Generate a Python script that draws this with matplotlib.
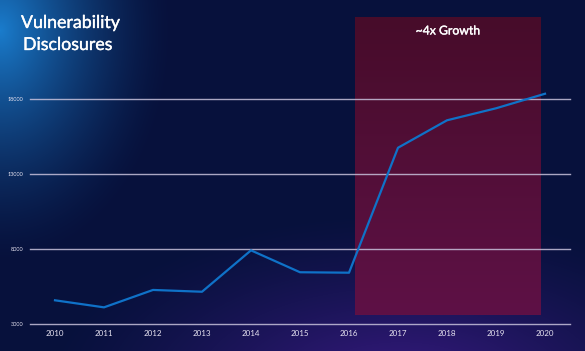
import numpy as np
import matplotlib
matplotlib.use('Agg')
import matplotlib.pyplot as plt
import matplotlib.patheffects as pe
from matplotlib.colors import to_rgb

plt.rcParams['font.family'] = ['Lato', 'DejaVu Sans']

# data
years = [2010, 2011, 2012, 2013, 2014, 2015, 2016, 2017, 2018, 2019, 2020]
disclosures = [4580, 4110, 5270, 5150, 7910, 6450, 6420, 14750, 16580, 17380, 18350]
y_ticks = [3000, 8000, 13000, 18000]
growth_span = (2016.13, 2019.91)
growth_label = '~4x Growth'

W, H = 585, 351
fig = plt.figure(figsize=(W / 100, H / 100), dpi=100)

# background: dark navy with blue glow top-left and purple glow bottom
bg = fig.add_axes([0, 0, 1, 1])
yy, xx = np.mgrid[0:H, 0:W]
base = np.array(to_rgb('#07113c'))
img = np.ones((H, W, 3)) * base
d_blue = np.sqrt((xx * 1.15) ** 2 + ((yy - 30) * 0.85) ** 2)
w_blue = np.clip(1 - d_blue / 200, 0, 1) ** 1.5
img = img * (1 - w_blue[..., None]) + np.array(to_rgb('#1a7ccc')) * w_blue[..., None]
d_purp = np.sqrt(((xx - 400) * 0.5) ** 2 + ((yy - 390) * 1.0) ** 2)
w_purp = np.clip(1 - d_purp / 180, 0, 1) ** 1.3
img = img * (1 - w_purp[..., None]) + np.array(to_rgb('#3a1a84')) * w_purp[..., None]
bg.imshow(img, aspect='auto', extent=[0, W, H, 0])
bg.set_xlim(0, W)
bg.set_ylim(H, 0)
bg.axis('off')

ax = fig.add_axes([30 / W, (H - 324) / H, 540 / W, 314 / H])
ax.patch.set_alpha(0)
x0 = 2010 - 25 / 49
x1 = 2020 + 25 / 49
y_top = 3000 + 314 * (15000 / 225)
ax.set_xlim(x0, x1)
ax.set_ylim(3000, y_top)

# shaded growth region with vertical gradient
grad = np.linspace(0, 1, 100)[:, None, None]
top_c = np.array(to_rgb('#470c2a'))
bot_c = np.array(to_rgb('#5e1146'))
rect = top_c * (1 - grad) + bot_c * grad
rect = np.repeat(rect, 2, axis=1)
ax.imshow(rect, aspect='auto', extent=[growth_span[0], growth_span[1], 3600, 23450],
          zorder=1)

for v in y_ticks:
    ax.axhline(v, color='#c8c2dc', lw=1.0, alpha=0.85, zorder=2, clip_on=False)

ax.plot(years, disclosures, color='#0f72c8', lw=1.6, zorder=3)

ax.set_xticks(years)
ax.set_xticklabels([str(y) for y in years], color='#e6e2f0', fontsize=5.8)
ax.set_yticks(y_ticks)
ax.set_yticklabels([str(v) for v in y_ticks], color='#e6e2f0', fontsize=4)
ax.tick_params(length=0, pad=4)
ax.tick_params(axis='y', pad=5)
for s in ax.spines.values():
    s.set_visible(False)

medium = [pe.withStroke(linewidth=0.25, foreground='white')]
ax.text(np.mean(growth_span), 3000 + (324 - 31) * (15000 / 225), growth_label,
        color='white', fontsize=8.8, ha='center', va='center', zorder=4,
        path_effects=medium)

fig.text(21 / W, 1 - 23 / H, 'Vulnerability', color='white', fontsize=12.8,
         ha='left', va='center', path_effects=medium)
fig.text(23 / W, 1 - 45 / H, 'Disclosures', color='white', fontsize=12.8,
         ha='left', va='center', path_effects=medium)

fig.savefig('out.png', dpi=100)
